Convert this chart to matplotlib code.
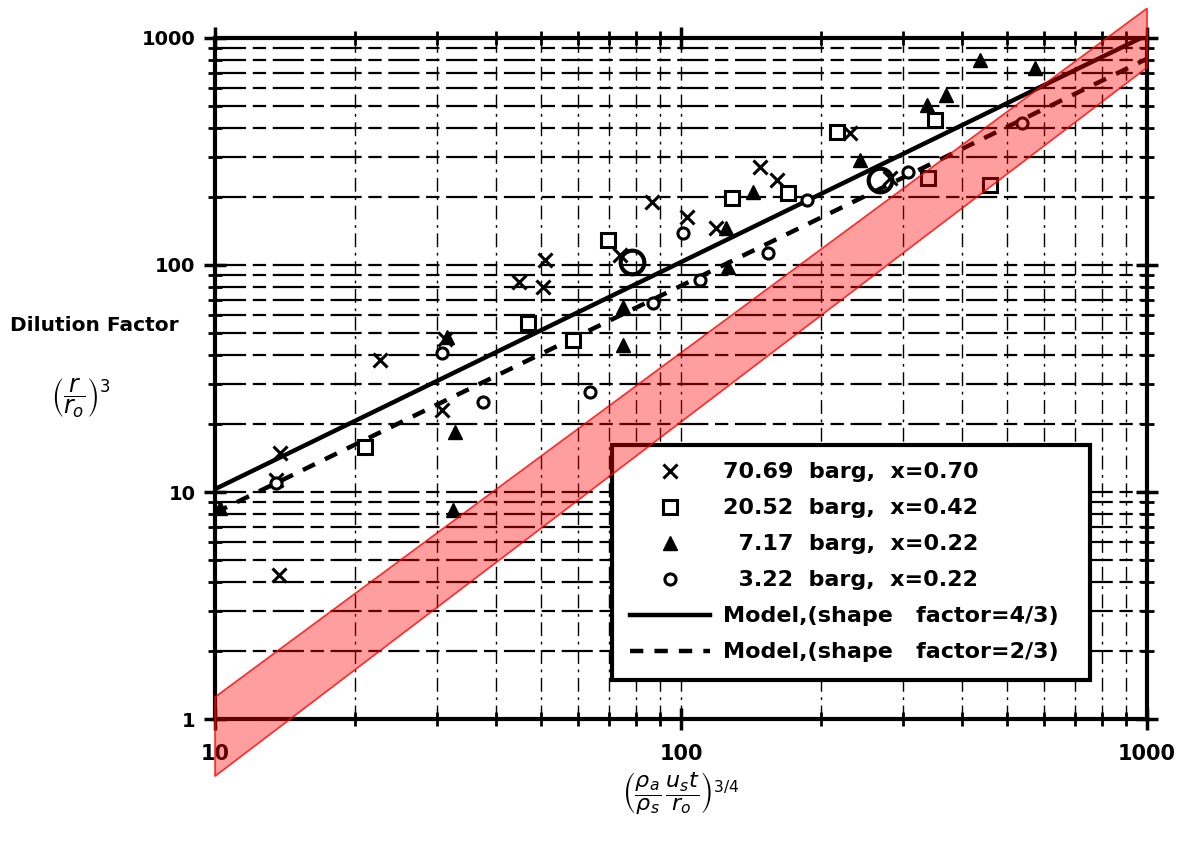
import numpy as np
import matplotlib
matplotlib.use("Agg")
import matplotlib.pyplot as plt
from matplotlib.ticker import LogLocator, NullFormatter, FixedLocator

# ---- data ----
cross_x = [13.7, 13.8, 13.5, 22.6, 31.2, 30.7, 45, 51, 50.6, 74, 86.7, 103, 119, 148, 161, 231, 281]
cross_y = [4.3, 14.9, 11.3, 38, 47, 23, 84, 105, 80, 111, 190, 163, 146, 270, 237, 381, 242]

square_x = [21, 47, 58.6, 69.7, 128.5, 170, 216, 339, 351, 460]
square_y = [15.8, 55.5, 46.7, 129, 197, 207, 385, 242, 435, 225]

tri_x = [10.25, 31.5, 32.7, 32.4, 75, 75, 126, 125, 143, 242, 337, 370, 438, 575]
tri_y = [8.5, 48, 18.4, 8.3, 44.5, 65, 98, 146, 210, 290, 507, 560, 800, 740]

circ_x = [13.5, 30.7, 37.6, 63.8, 87, 101, 110, 154, 186, 307, 540]
circ_y = [11.0, 41, 24.9, 27.6, 68, 138, 86, 113, 193, 257, 422]

big_circ_x = [78.5, 267]
big_circ_y = [103, 237]

model_x = [10, 1000]
model_43 = [10.3, 1030]    # shape factor 4/3
model_23 = [8.1, 810]      # shape factor 2/3

# red band (edges at x=10 and x=1000)
band_x = [10, 10, 1000, 1000]
band_y = [0.56, 1.25, 1350, 740]

legend_labels = ["70.69  barg,  x=0.70", "20.52  barg,  x=0.42",
                 "  7.17  barg,  x=0.22", "  3.22  barg,  x=0.22",
                 "Model,(shape   factor=4/3)", "Model,(shape   factor=2/3)"]

plt.rcParams['font.family'] = ['DejaVu Sans']
fig = plt.figure(figsize=(11.84, 8.43), dpi=100)
ax = fig.add_axes([0.1816, 0.147, 0.7872, 0.808])
ax.set_xscale("log")
ax.set_yscale("log")
ax.set_xlim(10, 1000)
ax.set_ylim(1, 1000)

# grid: horizontal broken lines, vertical dash-dot
yl = [v * 10 ** d for d in range(0, 3) for v in range(1, 10)][1:]
for v in yl:
    ax.axhline(v, color="black", lw=1.6, ls=(0, (14, 3, 6, 3)), zorder=1)
xl = [v * 10 ** d for d in range(1, 3) for v in range(1, 10)][1:]
for v in xl:
    ax.axvline(v, color="black", lw=1.0, ls=(0, (10, 4, 2, 4)), zorder=1)

l1, = ax.plot(model_x, model_43, color="black", lw=3.2, zorder=3)
l2, = ax.plot(model_x, model_23, color="black", lw=3.2, ls=(0, (3, 2.5)), zorder=3)

p1, = ax.plot(cross_x, cross_y, ls="none", marker="x", ms=10, mew=2.2, color="black", zorder=4)
p2, = ax.plot(square_x, square_y, ls="none", marker="s", ms=10, mew=2.2, mfc="white", mec="black", zorder=4)
p3, = ax.plot(tri_x, tri_y, ls="none", marker="^", ms=10, color="black", zorder=4)
p4, = ax.plot(circ_x, circ_y, ls="none", marker="o", ms=8, mew=2.2, mfc="white", mec="black", zorder=4)
ax.plot(big_circ_x, big_circ_y, ls="none", marker="o", ms=17, mew=3, mfc="none", mec="black", zorder=4)

ax.fill(band_x, band_y, facecolor=(1, 0, 0, 0.38), edgecolor=(1, 0, 0, 0.8), lw=1.2,
        zorder=6, clip_on=False)

for s in ax.spines.values():
    s.set_linewidth(3)
ax.xaxis.set_major_locator(FixedLocator([10, 100, 1000]))
ax.yaxis.set_major_locator(FixedLocator([1, 10, 100, 1000]))
ax.xaxis.set_minor_locator(LogLocator(base=10, subs=np.arange(2, 10)))
ax.yaxis.set_minor_locator(LogLocator(base=10, subs=np.arange(2, 10)))
ax.xaxis.set_minor_formatter(NullFormatter())
ax.yaxis.set_minor_formatter(NullFormatter())
ax.set_xticklabels(["10", "100", "1000"], fontweight="bold")
ax.set_yticklabels(["1", "10", "100", "1000"], fontweight="bold")
ax.tick_params(which="major", direction="inout", length=16, width=2.5, labelsize=14,
               top=True, right=True)
ax.tick_params(axis="x", which="major", pad=10, labelsize=15)
ax.tick_params(axis="y", which="major", pad=6)
ax.tick_params(which="minor", direction="inout", length=10, width=2, top=True, right=True)

ax.set_xlabel(r"$\left(\dfrac{\rho_a}{\rho_s}\,\dfrac{u_s t}{r_o}\right)^{3/4}$", fontsize=16, labelpad=4)
fig.text(0.08, 0.614, "Dilution Factor", fontsize=14.5, fontweight="bold", ha="center", va="center")
fig.text(0.068, 0.528, r"$\left(\dfrac{r}{r_o}\right)^3$", fontsize=17, ha="center", va="center")

leg = ax.legend([p1, p2, p3, p4, l1, l2], legend_labels, loc="lower left",
                bbox_to_anchor=(0.426, 0.057, 0.513, 0.353), mode="expand",
                fontsize=16, handlelength=3.6, handletextpad=0.6, labelspacing=0.72,
                borderpad=0.8, fancybox=False, framealpha=1, edgecolor="black", borderaxespad=0)
leg.get_frame().set_linewidth(3)
leg.set_zorder(5)
for t in leg.get_texts():
    t.set_fontweight("bold")

fig.savefig("out.png", dpi=100)
